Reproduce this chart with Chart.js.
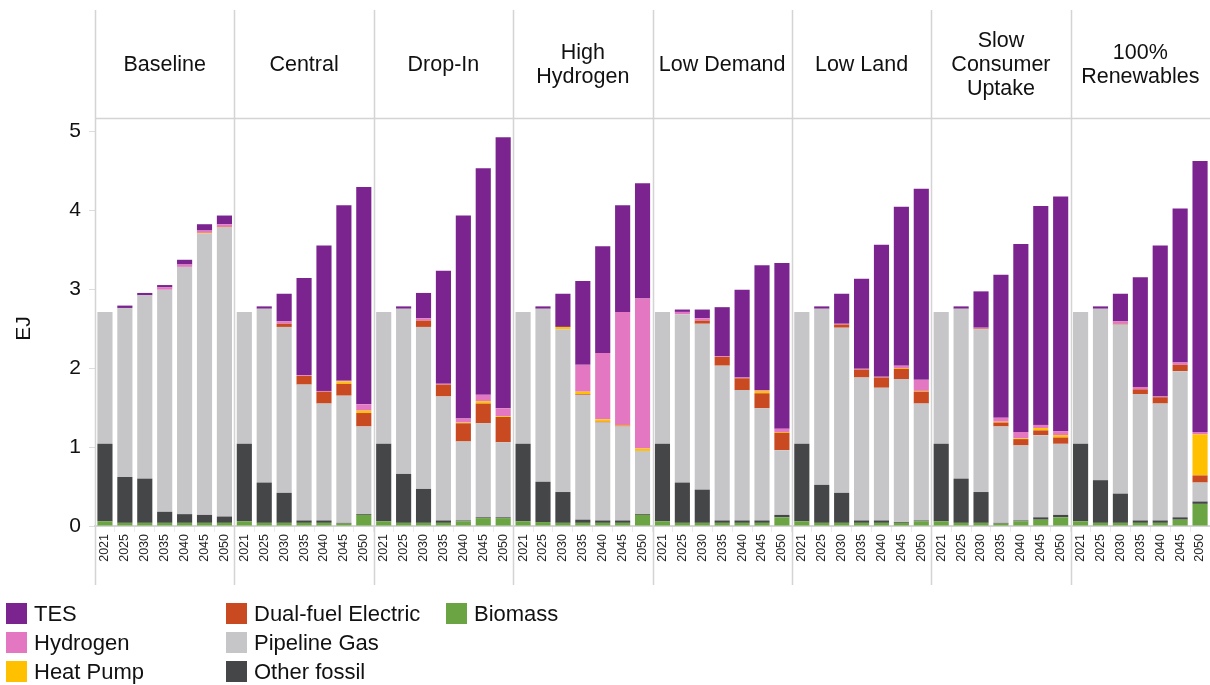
<!DOCTYPE html>
<html>
<head>
<meta charset="utf-8">
<title>Heat supply by scenario</title>
<script src="https://cdn.jsdelivr.net/npm/chart.js@4.4.1/dist/chart.umd.min.js"></script>
<style>
  html, body { margin: 0; padding: 0; background: #fff; }
  #wrap { position: relative; width: 1210px; height: 685px; }
  #chart { position: absolute; left: 0; top: 0; }
  #legend { position: absolute; left: 0; top: 0; font-family: "Liberation Sans", Arial, sans-serif; font-size: 22px; color: #111; }
  .item { position: absolute; height: 21px; line-height: 21px; white-space: nowrap; }
  .item .box { position: absolute; left: 0; top: 0; width: 21px; height: 21px; }
  .item .txt { position: absolute; left: 28px; top: 0; }
</style>
</head>
<body>
<div id="wrap">
  <canvas id="chart" width="1210" height="685"></canvas>
  <div id="legend"></div>
</div>
<script>
// panels and years
const scenarios = ['Baseline', 'Central', 'Drop-In', 'High\nHydrogen', 'Low Demand', 'Low Land', 'Slow\nConsumer\nUptake', '100%\nRenewables'];
const years = ['2021', '2025', '2030', '2035', '2040', '2045', '2050'];
const yTicks = [0, 1, 2, 3, 4, 5];

// EJ per scenario (7 years each, in scenario order)
const biomass = [
  0.06, 0.04, 0.04, 0.04, 0.04, 0.04, 0.04,
  0.06, 0.04, 0.04, 0.04, 0.04, 0.03, 0.14,
  0.06, 0.04, 0.04, 0.04, 0.06, 0.10, 0.10,
  0.06, 0.05, 0.04, 0.04, 0.04, 0.04, 0.14,
  0.06, 0.04, 0.04, 0.04, 0.04, 0.04, 0.11,
  0.06, 0.04, 0.04, 0.04, 0.04, 0.04, 0.06,
  0.06, 0.04, 0.04, 0.03, 0.06, 0.08, 0.11,
  0.06, 0.04, 0.04, 0.04, 0.04, 0.08, 0.28
];
const otherFossil = [
  0.98, 0.58, 0.56, 0.14, 0.11, 0.10, 0.08,
  0.98, 0.51, 0.38, 0.03, 0.03, 0.01, 0.01,
  0.98, 0.62, 0.43, 0.03, 0.01, 0.01, 0.01,
  0.98, 0.51, 0.39, 0.04, 0.03, 0.03, 0.01,
  0.98, 0.51, 0.42, 0.03, 0.03, 0.03, 0.03,
  0.98, 0.48, 0.38, 0.03, 0.03, 0.01, 0.01,
  0.98, 0.56, 0.39, 0.01, 0.01, 0.03, 0.03,
  0.98, 0.54, 0.37, 0.03, 0.03, 0.03, 0.03
];
const pipelineGas = [
  1.67, 2.14, 2.32, 2.81, 3.13, 3.56, 3.66,
  1.67, 2.20, 2.10, 1.72, 1.48, 1.61, 1.11,
  1.67, 2.09, 2.05, 1.57, 1.00, 1.19, 0.95,
  1.67, 2.19, 2.06, 1.58, 1.24, 1.19, 0.80,
  1.67, 2.13, 2.10, 1.96, 1.65, 1.42, 0.82,
  1.67, 2.23, 2.09, 1.81, 1.68, 1.81, 1.48,
  1.67, 2.15, 2.06, 1.22, 0.95, 1.04, 0.90,
  1.67, 2.17, 2.14, 1.60, 1.48, 1.85, 0.24
];
const dualFuel = [
  0, 0, 0, 0, 0, 0, 0.01,
  0, 0, 0.04, 0.11, 0.15, 0.15, 0.17,
  0, 0, 0.08, 0.15, 0.23, 0.25, 0.32,
  0, 0, 0, 0.01, 0.01, 0.01, 0,
  0, 0, 0.04, 0.11, 0.15, 0.19, 0.22,
  0, 0, 0.04, 0.10, 0.13, 0.13, 0.15,
  0, 0, 0.01, 0.05, 0.08, 0.06, 0.08,
  0, 0, 0.01, 0.06, 0.08, 0.08, 0.09
];
const heatPump = [
  0, 0, 0, 0, 0, 0.01, 0,
  0, 0, 0, 0, 0, 0.03, 0.03,
  0, 0, 0, 0, 0.01, 0.03, 0.01,
  0, 0, 0.03, 0.03, 0.03, 0.01, 0.03,
  0, 0, 0, 0, 0, 0.03, 0.01,
  0, 0, 0, 0, 0, 0.01, 0.01,
  0, 0, 0, 0.01, 0.01, 0.03, 0.03,
  0, 0, 0, 0, 0, 0, 0.52
];
const hydrogen = [
  0, 0, 0, 0.03, 0.03, 0.03, 0.03,
  0, 0, 0.03, 0.01, 0.01, 0.01, 0.08,
  0, 0, 0.03, 0.01, 0.05, 0.08, 0.10,
  0, 0, 0, 0.34, 0.84, 1.43, 1.90,
  0, 0.03, 0.03, 0.01, 0.01, 0.01, 0.04,
  0, 0, 0.01, 0.01, 0.01, 0.03, 0.14,
  0, 0, 0.01, 0.05, 0.08, 0.04, 0.05,
  0, 0, 0.03, 0.03, 0.01, 0.03, 0.03
];
const tes = [
  0, 0.03, 0.03, 0.03, 0.06, 0.08, 0.11,
  0, 0.03, 0.35, 1.23, 1.84, 2.22, 2.75,
  0, 0.03, 0.32, 1.43, 2.57, 2.87, 3.43,
  0, 0.03, 0.42, 1.06, 1.35, 1.35, 1.46,
  0, 0.03, 0.11, 0.62, 1.11, 1.58, 2.10,
  0, 0.03, 0.38, 1.14, 1.67, 2.01, 2.42,
  0, 0.03, 0.46, 1.81, 2.38, 2.77, 2.97,
  0, 0.03, 0.35, 1.39, 1.91, 1.95, 3.43
];

// stack order bottom -> top
const series = [
  { label: 'Biomass', data: biomass, color: '#6aa443' },
  { label: 'Other fossil', data: otherFossil, color: '#454648' },
  { label: 'Pipeline Gas', data: pipelineGas, color: '#c6c6c8' },
  { label: 'Dual-fuel Electric', data: dualFuel, color: '#c94a21' },
  { label: 'Heat Pump', data: heatPump, color: '#ffc000' },
  { label: 'Hydrogen', data: hydrogen, color: '#e377c2' },
  { label: 'TES', data: tes, color: '#7b2490' }
];

// legend columns as in the figure
const legendOrder = [['TES', 'Hydrogen', 'Heat Pump'], ['Dual-fuel Electric', 'Pipeline Gas', 'Other fossil'], ['Biomass']];

const labels = [];
scenarios.forEach(() => years.forEach(y => labels.push(y)));

const font = '"Liberation Sans", Arial, sans-serif';

// draws panel dividers and scenario headers
const panelPlugin = {
  id: 'panels',
  afterDraw(chart) {
    const ctx = chart.ctx;
    const area = chart.chartArea;
    const w = area.width / scenarios.length;
    ctx.save();
    ctx.strokeStyle = '#d4d4d4';
    ctx.lineWidth = 1.5;
    for (let i = 0; i < scenarios.length; i++) {
      const x = Math.round(area.left + i * w) + 0.5;
      ctx.beginPath();
      ctx.moveTo(x, 10);
      ctx.lineTo(x, 585);
      ctx.stroke();
    }
    ctx.beginPath();
    ctx.moveTo(area.left, 118.5);
    ctx.lineTo(area.right, 118.5);
    ctx.stroke();

    ctx.fillStyle = '#111';
    ctx.font = '21.5px ' + font;
    ctx.textAlign = 'center';
    ctx.textBaseline = 'middle';
    scenarios.forEach((name, i) => {
      const lines = name.split('\n');
      const cx = area.left + (i + 0.5) * w;
      const y0 = 65 - (lines.length - 1) * 12;
      lines.forEach((ln, j) => ctx.fillText(ln, cx, y0 + j * 24));
    });
    ctx.restore();
  }
};

const ctx = document.getElementById('chart').getContext('2d');
const chart = new Chart(ctx, {
  type: 'bar',
  data: {
    labels: labels,
    datasets: series.map(s => ({
      label: s.label,
      data: s.data,
      backgroundColor: s.color,
      borderWidth: 0,
      barPercentage: 0.76,
      categoryPercentage: 1
    }))
  },
  options: {
    responsive: false,
    animation: false,
    devicePixelRatio: 1,
    layout: { padding: { top: 131, right: 0, left: 0, bottom: 0 } },
    plugins: {
      legend: { display: false },
      tooltip: { enabled: false }
    },
    scales: {
      x: {
        stacked: true,
        grid: { drawOnChartArea: false, offset: true, tickLength: 6, color: '#ececec' },
        border: { color: '#d4d4d4', width: 2 },
        ticks: {
          autoSkip: false,
          maxRotation: 90,
          minRotation: 90,
          padding: 2,
          color: '#222',
          font: { family: font, size: 12.5 }
        },
        afterFit(scale) {
          scale.height = 159;
          scale.paddingLeft = 0;
          scale.paddingRight = 0;
        }
      },
      y: {
        stacked: true,
        min: 0,
        max: 5,
        afterBuildTicks(scale) { scale.ticks = yTicks.map(v => ({ value: v })); },
        grid: { drawOnChartArea: false, tickLength: 6, color: '#dddddd' },
        border: { display: false },
        ticks: { padding: 8, color: '#111', font: { family: font, size: 21 } },
        title: { display: true, text: 'EJ', color: '#111', font: { family: font, size: 21 }, padding: { top: 12, bottom: 0 } },
        afterFit(scale) { scale.width = 95; }
      }
    }
  },
  plugins: [panelPlugin]
});

// legend in three columns
const legend = document.getElementById('legend');
legendOrder.forEach((col, c) => {
  col.forEach((name, r) => {
    const s = series.find(d => d.label === name);
    const item = document.createElement('div');
    item.className = 'item';
    item.style.left = (6 + c * 220) + 'px';
    item.style.top = (603 + r * 29) + 'px';
    item.innerHTML = '<span class="box" style="background:' + s.color + '"></span><span class="txt">' + s.label + '</span>';
    legend.appendChild(item);
  });
});
</script>
</body>
</html>
